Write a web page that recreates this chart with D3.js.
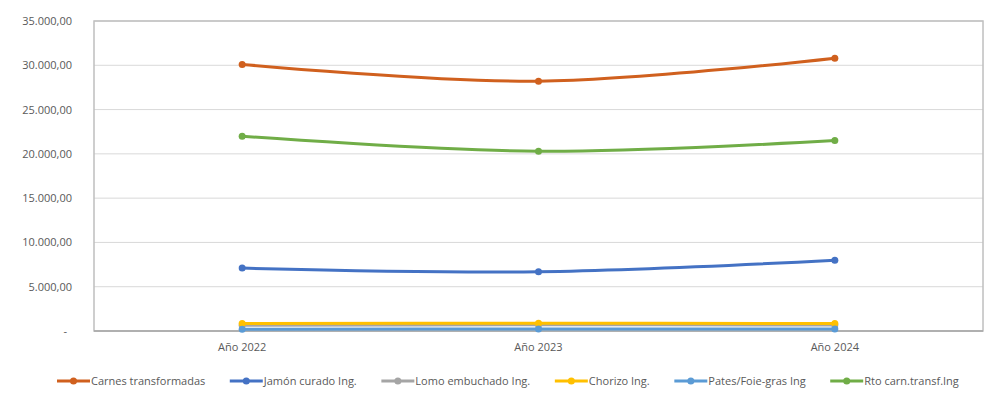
<!DOCTYPE html>
<html>
<head>
<meta charset="utf-8">
<script src="https://cdn.jsdelivr.net/npm/d3@7"></script>
<style>
  body { margin: 0; background: #fff; }
  text { font-family: "Open Sans", "Liberation Sans", sans-serif; fill: #595959; }
</style>
</head>
<body>
<div id="container"></div>
<script>
// datos
var years = ["Año 2022", "Año 2023", "Año 2024"];
var seriesNames = ["Carnes transformadas", "Jamón curado Ing.", "Lomo embuchado Ing.", "Chorizo Ing.", "Pates/Foie-gras Ing", "Rto carn.transf.Ing"];
var carnes = [30100, 28200, 30800];
var jamon = [7100, 6700, 8000];
var lomo = [650, 700, 680];
var chorizo = [850, 880, 850];
var pates = [200, 220, 230];
var rto = [22000, 20300, 21500];
var yTicks = [0, 5000, 10000, 15000, 20000, 25000, 30000, 35000];
var colors = ["#D0601E", "#4472C4", "#A5A5A5", "#FFC000", "#5B9BD5", "#70AD47"];

var series = [carnes, jamon, lomo, chorizo, pates, rto].map(function(v, i) {
  return { name: seriesNames[i], color: colors[i], values: v };
});

var svg_width = 1000, svg_height = 399;
var margin = { left: 94, right: 17, top: 21, bottom: 68 };
var plot_w = svg_width - margin.left - margin.right,
    plot_h = svg_height - margin.top - margin.bottom;

var svg = d3.select("#container").append("svg")
  .attr("width", svg_width)
  .attr("height", svg_height);

var x = d3.scaleBand().domain(years).range([0, plot_w]);
var y = d3.scaleLinear().domain([0, 35000]).range([plot_h, 0]);

var g = svg.append("g").attr("transform", "translate(" + margin.left + "," + margin.top + ")");

// formato es-ES, el cero como guion
var fmt = function(d) {
  if (d === 0) return "-";
  var s = d3.format(",.2f")(d);
  return s.replace(/,/g, "#").replace(".", ",").replace(/#/g, ".");
};

// rejilla
g.selectAll(".grid").data(yTicks.slice(1)).enter().append("line")
  .attr("x1", 0).attr("x2", plot_w)
  .attr("y1", function(d) { return y(d); })
  .attr("y2", function(d) { return y(d); })
  .attr("stroke", "#D9D9D9").attr("stroke-width", 1);

// borde del area
g.append("rect").attr("width", plot_w).attr("height", plot_h)
  .attr("fill", "none").attr("stroke", "#BFBFBF").attr("stroke-width", 1.5);
g.append("line").attr("x1", 0).attr("x2", plot_w).attr("y1", plot_h).attr("y2", plot_h)
  .attr("stroke", "#A6A6A6").attr("stroke-width", 1.5);

// eje y
var yAxis = g.append("g").call(d3.axisLeft(y).tickValues(yTicks).tickFormat(fmt).tickSize(0).tickPadding(22));
yAxis.select(".domain").remove();
yAxis.selectAll("text").style("font-size", "11px").style("fill", "#595959");
yAxis.selectAll("text").filter(function(d) { return d === 0; }).attr("dx", -5);

// eje x
var xAxis = g.append("g").attr("transform", "translate(0," + plot_h + ")")
  .call(d3.axisBottom(x).tickSize(0).tickPadding(12));
xAxis.select(".domain").remove();
xAxis.selectAll("text").style("font-size", "11px").style("fill", "#595959");

var line = d3.line()
  .x(function(d, i) { return x(years[i]) + x.bandwidth() / 2; })
  .y(function(d) { return y(d); })
  .curve(d3.curveCatmullRom.alpha(0.5));

var sg = g.selectAll(".serie").data(series).enter().append("g");
sg.append("path")
  .attr("d", function(d) { return line(d.values); })
  .attr("fill", "none")
  .attr("stroke", function(d) { return d.color; })
  .attr("stroke-width", 3);
sg.selectAll("circle").data(function(d) { return d.values.map(function(v) { return { v: v, c: d.color }; }); })
  .enter().append("circle")
  .attr("cx", function(d, i) { return x(years[i]) + x.bandwidth() / 2; })
  .attr("cy", function(d) { return y(d.v); })
  .attr("r", 3.5)
  .attr("fill", function(d) { return d.color || d.c; });

// leyenda
var legend = svg.append("g").attr("transform", "translate(0,381)");
var items = legend.selectAll("g").data(series).enter().append("g");
items.append("line").attr("x1", 0).attr("x2", 33).attr("y1", 0).attr("y2", 0)
  .attr("stroke", function(d) { return d.color; }).attr("stroke-width", 3);
items.append("circle").attr("cx", 16.5).attr("cy", 0).attr("r", 3.5)
  .attr("fill", function(d) { return d.color; });
items.append("text").attr("x", 34).attr("dy", "0.35em")
  .style("font-size", "11px")
  .text(function(d) { return d.name; });

var widths = [];
items.each(function() { widths.push(this.getBBox().width); });
var gap = 24.5;
var pos = 57;
items.attr("transform", function(d, i) {
  var p = pos;
  pos += widths[i] + gap;
  return "translate(" + p + ",0)";
});
</script>
</body>
</html>
